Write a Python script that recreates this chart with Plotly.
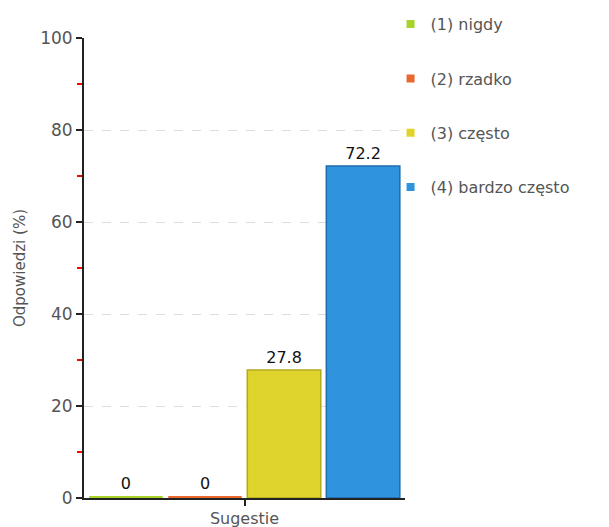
import plotly.graph_objects as go

categories = ["Sugestie"]
series_names = ["(1) nigdy", "(2) rzadko", "(3) często", "(4) bardzo często"]
series_values = [[0], [0], [27.8], [72.2]]
series_colors = ["#a8d42a", "#e8682e", "#ded42c", "#2f93de"]
series_borders = ["#9acd32", "#d8552a", "#b5a81c", "#1f6cb0"]
y_ticks = [0, 20, 40, 60, 80, 100]

MIN_VISIBLE = 0.45  # minimal drawn height so zero bars appear as a coloured line

fig = go.Figure()
for name, vals, col, bcol in zip(series_names, series_values, series_colors, series_borders):
    fig.add_trace(go.Bar(
        x=categories, y=[max(v, MIN_VISIBLE) for v in vals], name=name,
        marker=dict(color=col, line=dict(color=bcol, width=0 if vals[0] == 0 else 1.5)),
        text=[f"{v:g}" for v in vals], textposition="outside",
        textfont=dict(color="#111", size=16, family="DejaVu Sans"),
        cliponaxis=False, showlegend=False, hoverinfo="skip",
    ))
    fig.add_trace(go.Scatter(
        x=[None], y=[None], mode="markers", name=name,
        marker=dict(symbol="square", size=8, color=col),
        legendgroup=name, showlegend=True,
    ))

fig.update_layout(
    width=609, height=527,
    margin=dict(l=76, r=212, t=30, b=37, autoexpand=False),
    paper_bgcolor="white", plot_bgcolor="white",
    barmode="group", bargap=0.015, bargroupgap=0.07,
    font=dict(family="DejaVu Sans", color="#555", size=15),
    showlegend=True,
    legend=dict(x=0.955, xanchor="left", y=1.067, yanchor="top", bgcolor="rgba(0,0,0,0)",
                tracegroupgap=30.5, traceorder="grouped",
                font=dict(size=16, color="#555"), itemwidth=30),
    xaxis=dict(showline=True, linecolor="#222", linewidth=2, layer="below traces",
               ticks="outside", tickcolor="#222", ticklen=6, tickwidth=2,
               showticklabels=False,
               title=dict(text="Sugestie", standoff=8, font=dict(size=16, color="#555"))),
    yaxis=dict(range=[0, 100], tickvals=y_ticks, showline=True, linecolor="#222", linewidth=2,
               ticks="outside", tickcolor="#222", ticklen=6, tickwidth=2,
               showgrid=True, gridcolor="#dddddd", griddash="dash", gridwidth=1,
               zeroline=False,
               minor=dict(dtick=10, ticks="outside", tickcolor="red", ticklen=5, showgrid=False),
               tickfont=dict(size=17, color="#555"),
               title=dict(text="Odpowiedzi (%)", standoff=11, font=dict(size=15, color="#555"))),
)

fig.write_html("out.html")
